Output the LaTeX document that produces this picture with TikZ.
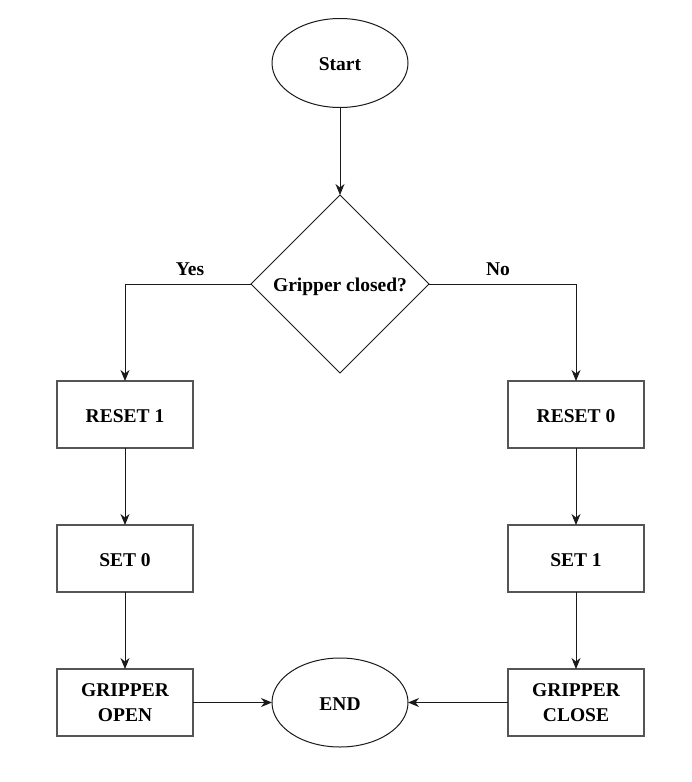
\documentclass[tikz,border=0pt]{standalone}
\usepackage{fontspec}
\setmainfont{Liberation Serif}
\usetikzlibrary{shapes.geometric,arrows.meta}
\definecolor{boxgray}{HTML}{555555}
\definecolor{linek}{HTML}{1A1A1A}
\tikzset{
  base/.style={font=\fontsize{19.5}{25}\selectfont\bfseries, inner sep=0pt, outer sep=0pt},
  one/.style={text height=15.8pt, text depth=0pt},
  terminal/.style={base, one, ellipse, draw=linek, line width=1pt, minimum width=136pt, minimum height=89pt},
  decision/.style={base, one, diamond, draw=linek, line width=1pt, minimum width=178pt, minimum height=178pt},
  procbox/.style={base, rectangle, draw=boxgray, line width=1.4pt, minimum width=136pt, minimum height=67pt, align=center},
  lbl/.style={base, text height=12.8pt, text depth=0pt},
  conn/.style={draw=linek, line width=1pt, -{Stealth[length=11pt,width=9pt,inset=3.5pt]}},
}
\begin{document}
\begin{tikzpicture}[x=1pt,y=-1pt]
  \fill[white] (0,0) rectangle (691,782);
  \useasboundingbox (0,0) rectangle (691,782);
  \node[terminal] (start) at (340,63) {Start};
  \node[decision] (dec) at (340,284) {Gripper closed?};
  \node[procbox, one] (r1) at (125,414.5) {RESET 1};
  \node[procbox, one] (s0) at (125,558.5) {SET 0};
  \node[procbox] (go) at (125,702.5) {GRIPPER\\OPEN};
  \node[procbox, one] (r0) at (576,414.5) {RESET 0};
  \node[procbox, one] (s1) at (576,558.5) {SET 1};
  \node[procbox] (gc) at (576,702.5) {GRIPPER\\CLOSE};
  \node[terminal] (end) at (340,702.5) {END};
  \node[lbl] (yes) at (190,269) {Yes};
  \node[lbl] (no) at (498,269) {No};
  \draw[conn] (start) -- (dec);
  \draw[conn] (dec.west) -| (r1.north);
  \draw[conn] (dec.east) -| (r0.north);
  \draw[conn] (r1) -- (s0);
  \draw[conn] (s0) -- (go);
  \draw[conn] (r0) -- (s1);
  \draw[conn] (s1) -- (gc);
  \draw[conn] (go) -- (end);
  \draw[conn] (gc) -- (end);
\end{tikzpicture}
\end{document}
